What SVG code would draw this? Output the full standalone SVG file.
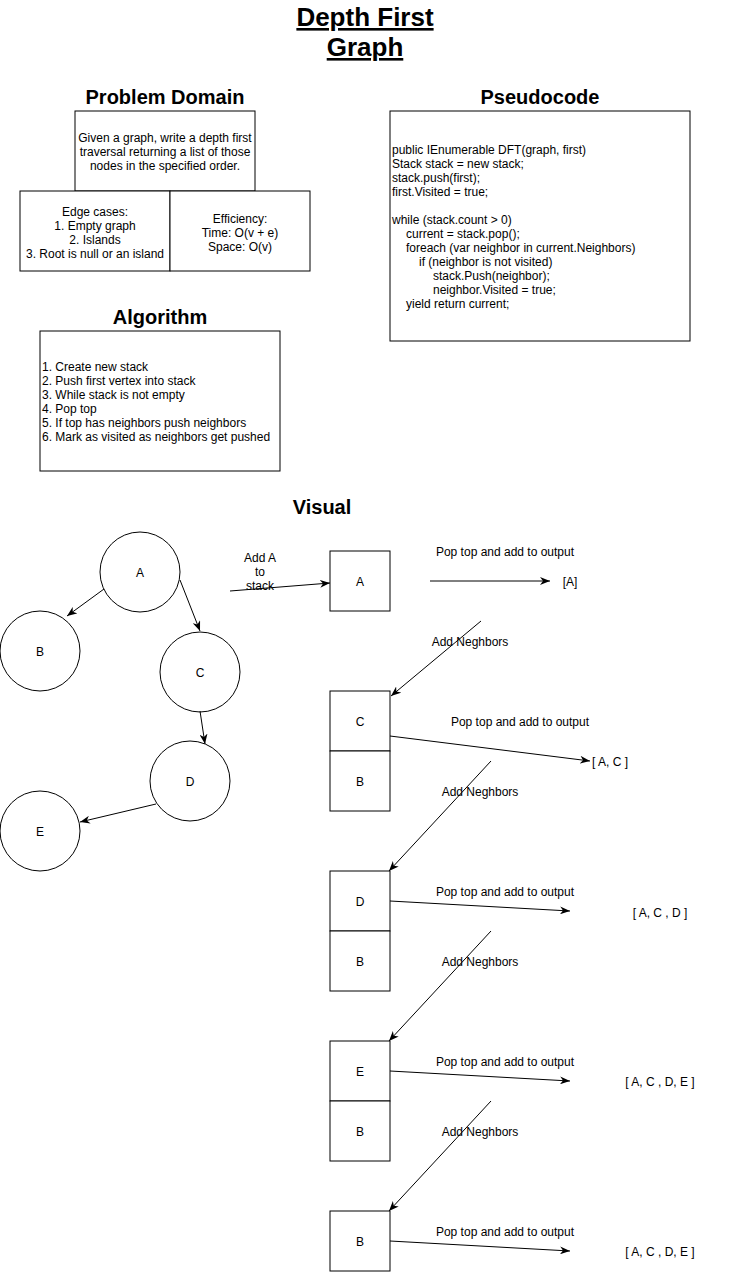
<svg xmlns="http://www.w3.org/2000/svg" width="731" height="1272" viewBox="0 0 731 1272">
<style>
.t{font-family:"Liberation Sans",Arial,sans-serif;font-size:12px;fill:#000}
.c{text-anchor:middle}
.h{font-family:"Liberation Sans",Arial,sans-serif;font-size:20px;font-weight:bold;text-anchor:middle;fill:#000}
.ti{font-family:"Liberation Sans",Arial,sans-serif;font-size:26px;font-weight:bold;text-anchor:middle;fill:#000;text-decoration:underline}
.box{fill:#fff;stroke:#000;stroke-width:1}
.ln{fill:none;stroke:#000;stroke-width:1;marker-end:url(#arr)}
</style>
<defs>
<marker id="arr" viewBox="0 0 10 8" refX="10" refY="4" markerWidth="10" markerHeight="8" markerUnits="userSpaceOnUse" orient="auto">
<path d="M0,0 L10,4 L0,8 L3,4 z" fill="#000"/>
</marker>
</defs>
<rect width="731" height="1272" fill="#fff"/>

<g id="title">
<text class="ti" x="365" y="26">Depth First</text>
<text class="ti" x="365" y="56">Graph</text>
</g>

<g id="problem-domain">
<text class="h" x="165" y="104">Problem Domain</text>
<rect class="box" x="75" y="111" width="180" height="80"/>
<text class="t c" x="165" y="142">Given a graph, write a depth first</text>
<text class="t c" x="165" y="156">traversal returning a list of those</text>
<text class="t c" x="165" y="170">nodes in the specified order.</text>
</g>
<g id="edge-cases">
<rect class="box" x="20" y="191" width="150" height="80"/>
<text class="t c" x="95" y="216">Edge cases:</text>
<text class="t c" x="95" y="230">1. Empty graph</text>
<text class="t c" x="95" y="244">2. Islands</text>
<text class="t c" x="95" y="258">3. Root is null or an island</text>
</g>
<g id="efficiency">
<rect class="box" x="170" y="191" width="140" height="80"/>
<text class="t c" x="240" y="223">Efficiency:</text>
<text class="t c" x="240" y="237">Time: O(v + e)</text>
<text class="t c" x="240" y="251">Space: O(v)</text>
</g>

<g id="pseudocode">
<text class="h" x="540" y="104">Pseudocode</text>
<rect class="box" x="390" y="111" width="300" height="230"/>
<text class="t" x="392" y="154">public IEnumerable DFT(graph, first)</text>
<text class="t" x="392" y="168">Stack stack = new stack;</text>
<text class="t" x="392" y="182">stack.push(first);</text>
<text class="t" x="392" y="196">first.Visited = true;</text>
<text class="t" x="392" y="224">while (stack.count &gt; 0)</text>
<text class="t" x="406" y="238">current = stack.pop();</text>
<text class="t" x="406" y="252">foreach (var neighbor in current.Neighbors)</text>
<text class="t" x="419" y="266">if (neighbor is not visited)</text>
<text class="t" x="433" y="280">stack.Push(neighbor);</text>
<text class="t" x="433" y="294">neighbor.Visited = true;</text>
<text class="t" x="406" y="308">yield return current;</text>
</g>

<g id="algorithm">
<text class="h" x="160" y="324">Algorithm</text>
<rect class="box" x="40" y="331" width="240" height="140"/>
<text class="t" x="42" y="371">1. Create new stack</text>
<text class="t" x="42" y="385">2. Push first vertex into stack</text>
<text class="t" x="42" y="399">3. While stack is not empty</text>
<text class="t" x="42" y="413">4. Pop top</text>
<text class="t" x="42" y="427">5. If top has neighbors push neighbors</text>
<text class="t" x="42" y="441">6. Mark as visited as neighbors get pushed</text>
</g>

<g id="visual-heading">
<text class="h" x="322" y="514">Visual</text>
</g>

<g id="node-A"><circle class="box" cx="140" cy="572" r="40"/><text class="t c" x="140" y="577">A</text></g>
<g id="node-B"><circle class="box" cx="40" cy="651" r="40"/><text class="t c" x="40" y="656">B</text></g>
<g id="node-C"><circle class="box" cx="200" cy="672" r="40"/><text class="t c" x="200" y="677">C</text></g>
<g id="node-D"><circle class="box" cx="190" cy="781" r="40"/><text class="t c" x="190" y="786">D</text></g>
<g id="node-E"><circle class="box" cx="40" cy="831" r="40"/><text class="t c" x="40" y="836">E</text></g>

<g id="stack-1"><rect class="box" x="330" y="551" width="60" height="60"/><text class="t c" x="360" y="586">A</text></g>
<g id="stack-2">
<rect class="box" x="330" y="691" width="60" height="60"/><text class="t c" x="360" y="726">C</text>
<rect class="box" x="330" y="751" width="60" height="60"/><text class="t c" x="360" y="786">B</text>
</g>
<g id="stack-3">
<rect class="box" x="330" y="871" width="60" height="60"/><text class="t c" x="360" y="906">D</text>
<rect class="box" x="330" y="931" width="60" height="60"/><text class="t c" x="360" y="966">B</text>
</g>
<g id="stack-4">
<rect class="box" x="330" y="1041" width="60" height="60"/><text class="t c" x="360" y="1076">E</text>
<rect class="box" x="330" y="1101" width="60" height="60"/><text class="t c" x="360" y="1136">B</text>
</g>
<g id="stack-5">
<rect class="box" x="330" y="1211" width="60" height="60"/><text class="t c" x="360" y="1246">B</text>
</g>

<g id="outputs">
<text class="t c" x="570" y="586">[A]</text>
<text class="t" x="592" y="766">[ A, C ]</text>
<text class="t c" x="660" y="917">[ A, C , D ]</text>
<text class="t c" x="660" y="1086">[ A, C , D, E ]</text>
<text class="t c" x="660" y="1256">[ A, C , D, E ]</text>
</g>

<g id="connectors">
<line class="ln" x1="104" y1="589" x2="67" y2="616"/>
<line class="ln" x1="180" y1="580" x2="200" y2="631"/>
<line class="ln" x1="200" y1="711" x2="205" y2="744"/>
<line class="ln" x1="156" y1="804" x2="80" y2="822"/>
<line class="ln" x1="230" y1="591" x2="330" y2="583"/>
<line class="ln" x1="430" y1="581" x2="550" y2="581"/>
<line class="ln" x1="481" y1="621" x2="391" y2="696"/>
<line class="ln" x1="390" y1="736" x2="590" y2="761"/>
<line class="ln" x1="491" y1="761" x2="389" y2="871"/>
<line class="ln" x1="390" y1="901" x2="570" y2="911"/>
<line class="ln" x1="491" y1="931" x2="389" y2="1041"/>
<line class="ln" x1="390" y1="1071" x2="570" y2="1081"/>
<line class="ln" x1="491" y1="1101" x2="389" y2="1211"/>
<line class="ln" x1="390" y1="1241" x2="570" y2="1251"/>
<g id="connector-labels">
<text class="t c" x="260" y="562">Add A</text>
<text class="t c" x="260" y="576">to</text>
<text class="t c" x="260" y="590">stack</text>
<text class="t c" x="505" y="556">Pop top and add to output</text>
<text class="t c" x="470" y="646">Add Neghbors</text>
<text class="t c" x="520" y="726">Pop top and add to output</text>
<text class="t c" x="480" y="796">Add Neghbors</text>
<text class="t c" x="505" y="896">Pop top and add to output</text>
<text class="t c" x="480" y="966">Add Neghbors</text>
<text class="t c" x="505" y="1066">Pop top and add to output</text>
<text class="t c" x="480" y="1136">Add Neghbors</text>
<text class="t c" x="505" y="1236">Pop top and add to output</text>
</g>
</g>
</svg>
